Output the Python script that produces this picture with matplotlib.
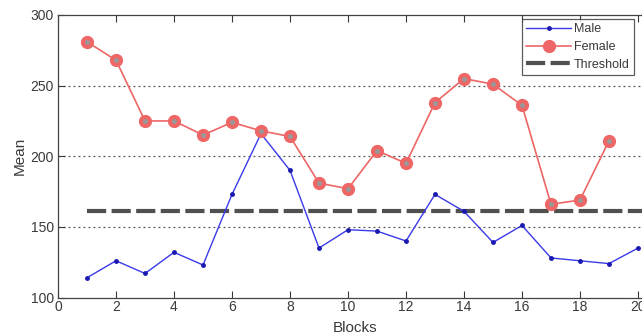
import matplotlib

matplotlib.use("Agg")

import matplotlib.pyplot as plt
import numpy as np

plt.rcParams["font.family"] = ["Liberation Sans", "DejaVu Sans"]

blocks_male = np.arange(1, 21)
male = [114, 126, 117, 132, 123, 173, 216, 190, 135, 148,
        147, 140, 173, 161, 139, 151, 128, 126, 124, 135]
blocks_female = np.arange(1, 20)
female = [281, 268, 225, 225, 215, 224, 218, 214, 181, 177,
          204, 195, 238, 255, 251, 236, 166, 169, 211]
threshold = 161.5

W, H = 642, 336
fig = plt.figure(figsize=(W / 100, H / 100), dpi=100)
# axes run past the right edge of the picture (cropped original)
ax = fig.add_axes([58 / W, 38.5 / H, 594.5 / W, 282.5 / H])

text_c = "#3a3a3a"
red = "#ee6666"

ax.plot(blocks_male, male, color="#3a3ae8", lw=1.0, marker=".", ms=5,
        mfc="#1a1ab0", mec="#1a1ab0", label="Male", zorder=3)
ax.plot(blocks_female, female, color=red, lw=1.2, marker="o", ms=8.5,
        mfc=red, mec=red, label="Female", zorder=4)
ax.plot(blocks_female, female, ls="none", marker="o", ms=2.5,
        color="#999999", zorder=5)
ax.plot([1, 20.5], [threshold, threshold], color="#505050", lw=3,
        ls=(0, (4.6, 1.3)), label="Threshold", zorder=2)

ax.set_xlim(0, 20.5)
ax.set_ylim(100, 300)
ax.set_xticks(np.arange(0, 21, 2))
ax.set_yticks(np.arange(100, 301, 50))
for y in (150, 200, 250):
    ax.axhline(y, color="#555555", lw=0.9, ls=(0, (1.5, 2.5)), zorder=1)

ax.tick_params(direction="in", length=5, top=True, right=False,
               labelsize=10, colors=text_c, pad=3)
ax.tick_params(axis="x", pad=2)
for s in ("left", "bottom", "top"):
    ax.spines[s].set_color("#444444")
    ax.spines[s].set_linewidth(0.9)
ax.spines["right"].set_visible(False)

ax.set_xlabel("Blocks", fontsize=11, color=text_c, labelpad=5)
ax.set_ylabel("Mean", fontsize=11, color=text_c, labelpad=3)

leg = ax.legend(loc="upper right", bbox_to_anchor=(634 / W, 1 - 19 / H),
                bbox_transform=fig.transFigure, fontsize=9, frameon=True,
                fancybox=False, handlelength=3.6, handletextpad=0.2,
                borderpad=0.35, labelspacing=0.45, borderaxespad=0)
leg.get_frame().set_edgecolor("#333333")
leg.get_frame().set_linewidth(0.9)
for t in leg.get_texts():
    t.set_color(text_c)

fig.savefig("out.png", dpi=100)
